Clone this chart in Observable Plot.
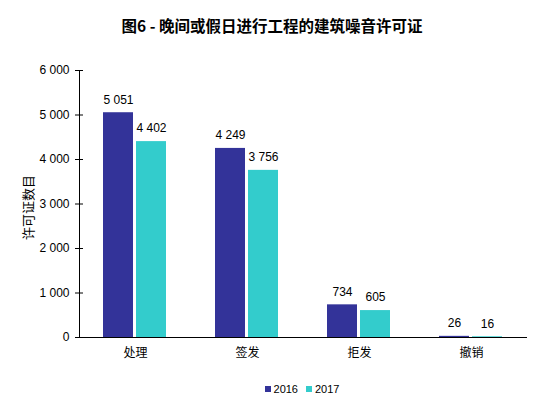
<!DOCTYPE html>
<html>
<head>
<meta charset="utf-8">
<script src="https://cdn.jsdelivr.net/npm/d3@7"></script>
<script src="https://cdn.jsdelivr.net/npm/@observablehq/plot@0.6"></script>
<style>
  body { margin: 0; background: #fff; }
  #title {
    width: 540px; height: 50px; line-height: 50px; text-align: center;
    font-family: "Noto Sans CJK SC", sans-serif; font-weight: bold; font-size: 15.5px;
    color: #000; padding-left: 4px; box-sizing: border-box;
  }
  #legend { width: 540px; display: flex; justify-content: center; margin-top: 13px; padding-left: 64px; box-sizing: border-box; }
  .lg { font-family: "Liberation Sans", Arial, sans-serif; font-size: 11px; color: #000; }
</style>
</head>
<body>
<div id="title">图6 - 晚间或假日进行工程的建筑噪音许可证</div>
<div id="chart"></div>
<div id="legend"></div>
<script>
const categories = ['处理', '签发', '拒发', '撤销']
const years = ['2016', '2017']
const values2016 = [5051, 4249, 734, 26]
const values2017 = [4402, 3756, 605, 16]
const yTicks = [0, 1000, 2000, 3000, 4000, 5000, 6000]
const colors = ['#333399', '#33CCCC']

const fmt = d3.formatLocale({decimal: '.', thousands: ' ', grouping: [3], currency: ['', '']}).format(',d')

// tabla larga: una fila por categoria y año
const data = []
categories.forEach((c, i) => {
  data.push({cat: c, year: years[0], value: values2016[i]})
  data.push({cat: c, year: years[1], value: values2017[i]})
})

const chart = Plot.plot({
  width: 540,
  height: 320,
  marginTop: 20,
  marginBottom: 33,
  marginLeft: 77,
  marginRight: 12,
  style: {fontFamily: '"Liberation Sans", Arial, "Noto Sans CJK SC", sans-serif', fontSize: '12px', color: '#000'},
  fx: {domain: categories, padding: 0, label: null, tickSize: 0, tickPadding: 11},
  x: {domain: years, paddingInner: 0.088, paddingOuter: 0.7, axis: null},
  y: {domain: [0, 6000], axis: null},
  color: {domain: years, range: colors},
  marks: [
    Plot.barY(data, {fx: 'cat', x: 'year', y: 'value', fill: 'year'}),
    Plot.text(data, {fx: 'cat', x: 'year', y: 'value', text: d => fmt(d.value), dy: -13, fontSize: 12, fill: '#000'}),
    Plot.ruleY([0], {stroke: '#000', strokeWidth: 1}),
    Plot.frame({anchor: 'left', facetAnchor: 'left', stroke: '#000'}),
    Plot.axisY(yTicks, {tickSize: 8, dx: 4, tickPadding: 6, tickFormat: fmt, label: null, fontSize: 12, stroke: '#000', fill: '#000'}),
    Plot.text(['许可证数目'], {frameAnchor: 'left', dx: -51, dy: 36, rotate: -90, fontSize: 13, fill: '#000', facetAnchor: 'left',
      fontFamily: '"Noto Sans CJK SC", sans-serif'})
  ]
})

d3.select('#chart').append(() => chart)

// leyenda
const lg = d3.select('#legend')
years.forEach((y, i) => {
  const item = lg.append('div').attr('class', 'lg').style('display', 'flex').style('align-items', 'center')
    .style('margin-right', i === 0 ? '8px' : '0px')
  item.append('div').style('width', '6px').style('height', '6px').style('background', colors[i]).style('margin-right', '3px')
  item.append('span').text(y)
})
</script>
</body>
</html>
